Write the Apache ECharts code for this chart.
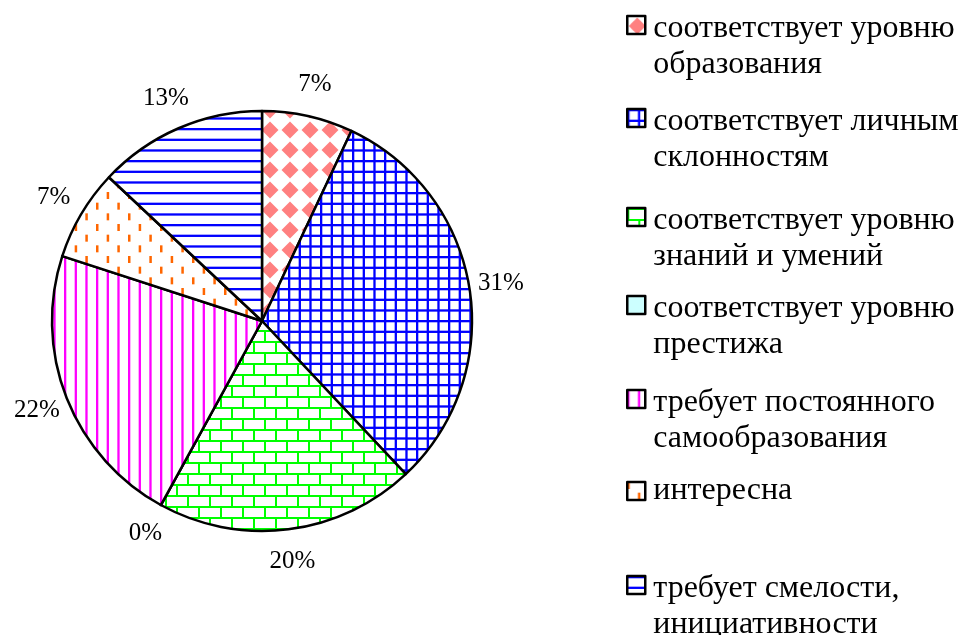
<!DOCTYPE html>
<html>
<head>
<meta charset="utf-8">
<script src="https://cdn.jsdelivr.net/npm/echarts@6/dist/echarts.min.js"></script>
<style>
  html, body { margin: 0; padding: 0; background: #fff; }
  #chart { width: 962px; height: 635px; }
</style>
</head>
<body>
<div id="chart"></div>
<script>
// Answer categories (legend order = slice order, clockwise from 12 o'clock)
const categories = [
  'соответствует уровню\nобразования',
  'соответствует личным\nсклонностям',
  'соответствует уровню\nзнаний и умений',
  'соответствует уровню\nпрестижа',
  'требует постоянного\nсамообразования',
  'интересна',
  'требует смелости,\nинициативности'
];
// Share of answers, %
const shares = [7, 31, 20, 0, 22, 7, 13];

const FONT = "'Liberation Serif', 'Times New Roman', serif";

// ---- hatch fills painted on small repeating canvases ----
function tile(w, h, paint) {
  const c = document.createElement('canvas');
  c.width = w; c.height = h;
  const g = c.getContext('2d');
  g.fillStyle = '#ffffff';
  g.fillRect(0, 0, w, h);
  paint(g, w, h);
  return { image: c, repeat: 'repeat' };
}

const STEP = 32 / 3; // ~10.7 px hatch pitch

const diamonds = tile(20, 20, (g) => {
  g.fillStyle = '#FF8080';
  g.beginPath();
  g.moveTo(10, 1.5); g.lineTo(18.5, 10); g.lineTo(10, 18.5); g.lineTo(1.5, 10);
  g.closePath(); g.fill();
});

const grid = tile(32, 32, (g) => {
  g.fillStyle = '#0000FF';
  for (let k = 0; k < 3; k++) {
    g.fillRect(k * STEP, 0, 2.3, 32);
    g.fillRect(0, k * STEP, 32, 2.3);
  }
});

const bricks = tile(22, 22, (g) => {
  g.fillStyle = '#00FF00';
  g.fillRect(0, 0, 22, 2);
  g.fillRect(0, 11, 22, 2);
  g.fillRect(0, 0, 2, 11);
  g.fillRect(11, 11, 2, 11);
});

const plain = '#CCFFFF';

const vlines = tile(32, 8, (g) => {
  g.fillStyle = '#FF00FF';
  for (let k = 0; k < 3; k++) g.fillRect(k * STEP, 0, 2.3, 8);
});

const dashes = tile(64, 64, (g) => {
  g.fillStyle = '#FF6600';
  for (let col = 0; col < 6; col++) {
    const x = col * STEP;
    const off = (col % 2) * STEP;
    for (let row = 0; row < 3; row++) {
      const y = (off + row * 2 * STEP) % 64;
      g.fillRect(x, y, 2.5, 7);
      if (y + 7 > 64) g.fillRect(x, y - 64, 2.5, 7);
    }
  }
});

const hlines = tile(8, 32, (g) => {
  g.fillStyle = '#0000FF';
  for (let k = 0; k < 3; k++) g.fillRect(0, k * STEP, 8, 2.3);
});

const fills = [diamonds, grid, bricks, plain, vlines, dashes, hlines];

// ---- legend: one block per entry, marker aligned with first text line ----
const LINE = 36;      // text line pitch
const SHIFT = 4;      // first text line sits slightly below the marker centre
const markerCenters = [25, 118, 217, 305, 399, 491, 585];
const legends = categories.map((name, i) => {
  const lines = name.split('\n');
  const multi = lines.length > 1;
  // for wrapped names an empty spacer line on top pushes the first text line onto the marker
  const gap = LINE + 2 * SHIFT;
  const blockHeight = multi ? gap + lines.length * LINE : LINE;
  return {
    orient: 'vertical',
    left: 626,
    top: markerCenters[i] - blockHeight / 2,
    padding: 0,
    itemWidth: 18,
    itemHeight: 18,
    itemGap: 0,
    selectedMode: false,
    icon: 'rect',
    data: [name],
    formatter: (n) => {
      const body = n.split('\n').map((s) => '{t|' + s + '}').join('\n');
      return multi ? '{g|}\n' + body : body;
    },
    itemStyle: { borderColor: '#000', borderWidth: 2.5 },
    textStyle: {
      fontFamily: FONT,
      fontSize: 32,
      color: '#000',
      backgroundColor: 'rgba(255,255,255,0)',
      padding: [0, 0, 0, 3],
      rich: {
        g: { lineHeight: gap, fontSize: 32, fontFamily: FONT },
        t: { lineHeight: LINE, fontSize: 32, fontFamily: FONT, color: '#000' }
      }
    }
  };
});

const chart = echarts.init(document.getElementById('chart'), null, { renderer: 'canvas' });
chart.setOption({
  animation: false,
  backgroundColor: '#fff',
  legend: legends,
  series: [
    {
      type: 'pie',
      center: [262, 321],
      radius: [0, 210],
      startAngle: 90,
      clockwise: true,
      silent: true,
      avoidLabelOverlap: false,
      label: { show: false },
      labelLine: { show: false },
      emphasis: { disabled: true },
      itemStyle: { borderColor: '#000', borderWidth: 2.5 },
      data: categories.map((name, i) => ({
        name: name,
        value: shares[i],
        itemStyle: { color: fills[i] }
      }))
    },
    {
      // invisible wider ring carrying the percentage labels outside the pie
      type: 'pie',
      center: [262, 321],
      radius: [0, 478],
      startAngle: 90,
      clockwise: true,
      silent: true,
      avoidLabelOverlap: false,
      emphasis: { disabled: true },
      itemStyle: { color: 'rgba(0,0,0,0)', borderWidth: 0 },
      labelLine: { show: false },
      label: {
        show: true,
        position: 'inside',
        formatter: '{c}%',
        fontFamily: FONT,
        fontSize: 25,
        color: '#000'
      },
      data: categories.map((name, i) => ({ name: name, value: shares[i] }))
    }
  ]
});
</script>
</body>
</html>
